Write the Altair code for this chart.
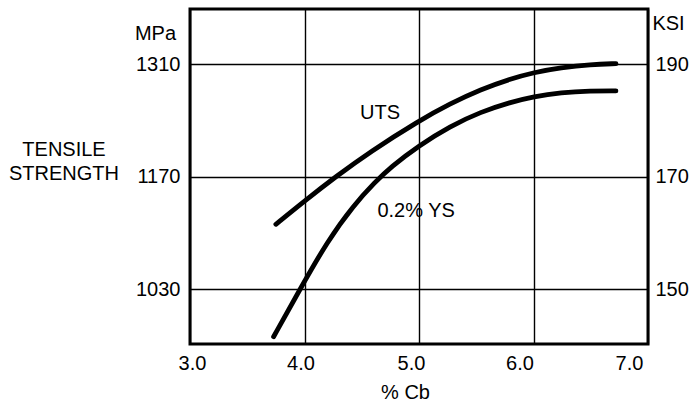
import altair as alt
import pandas as pd

# Data
cb_uts = [3.75, 4.0, 4.27, 4.57, 5.0, 5.27, 5.54, 5.8, 6.0, 6.24, 6.5, 6.72]
uts_mpa = [1111, 1140, 1170, 1201, 1240, 1261, 1279, 1292, 1300, 1306, 1310, 1311]

cb_ys = [3.73, 3.96, 4.2, 4.43, 4.62, 4.75, 5.0, 5.27, 5.54, 5.8, 6.0, 6.24, 6.5, 6.72]
ys_mpa = [971, 1030, 1090, 1135, 1164, 1182, 1209, 1233, 1251, 1263, 1270, 1275, 1277, 1277]

x_ticks = [3.0, 4.0, 5.0, 6.0, 7.0]
x_label_shift = [2, -4, -8, -14, -19]
mpa_ticks = [1030, 1170, 1310]
ksi_labels = ["150", "170", "190"]

curve_labels = ["UTS", "0.2% YS"]
curve_label_x = [4.66, 4.975]
curve_label_y = [1249, 1128]

FONT = "Liberation Sans"
FS = 20
X_DOMAIN = [3.0, 7.0]
Y_DOMAIN = [962, 1379]

df = pd.concat([
    pd.DataFrame({"cb": cb_uts, "mpa": uts_mpa, "series": "UTS"}),
    pd.DataFrame({"cb": cb_ys, "mpa": ys_mpa, "series": "YS"}),
])
lab = pd.DataFrame({"cb": curve_label_x, "mpa": curve_label_y, "text": curve_labels})

ksi_expr = " : ".join(
    f"datum.value == {m} ? '{k}'" for m, k in zip(mpa_ticks, ksi_labels)
) + " : ''"

x_offset_cond = {
    "condition": [
        {"test": f"datum.value == {v}", "value": s} for v, s in zip(x_ticks, x_label_shift)
    ],
    "value": 0,
}

xscale = alt.Scale(domain=X_DOMAIN, nice=False, zero=False)
yscale = alt.Scale(domain=Y_DOMAIN, nice=False, zero=False)

x_axis = alt.Axis(
    values=x_ticks, format=".1f", grid=True, gridColor="black", gridWidth=1.4,
    gridOpacity=1, ticks=False, domain=False, labelPadding=9, labelFlush=False,
    labelFont=FONT, labelFontSize=FS, labelColor="black",
    labelOffset=x_offset_cond,
    title="% Cb", titleFont=FONT, titleFontSize=FS, titleFontWeight="normal",
    titleColor="black", titleX=215, titleY=48, titleBaseline="middle",
    titleAlign="center",
)
left_axis = alt.Axis(
    values=mpa_ticks, format="d", grid=True, gridColor="black", gridWidth=1.4,
    gridOpacity=1, ticks=False, domain=False, labelPadding=10, orient="left",
    labelFont=FONT, labelFontSize=FS, labelColor="black", labelFlush=False,
    title="MPa", titleAngle=0, titleFont=FONT, titleFontSize=FS,
    titleFontWeight="normal", titleColor="black", titleX=-35, titleY=24,
    titleAlign="center", titleBaseline="middle",
)
right_axis = alt.Axis(
    orient="right", values=mpa_ticks, labelExpr=ksi_expr, grid=False,
    ticks=False, domain=False, labelPadding=7, labelFlush=False,
    labelFont=FONT, labelFontSize=FS, labelColor="black",
    title="KSI", titleAngle=0, titleFont=FONT, titleFontSize=FS,
    titleFontWeight="normal", titleColor="black", titleX=20, titleY=14,
    titleAlign="center", titleBaseline="middle",
)

X = alt.X("cb:Q", scale=xscale, axis=x_axis)
Y_left = alt.Y("mpa:Q", scale=yscale, axis=left_axis)

lines = alt.Chart(df).mark_line(
    color="black", strokeWidth=4.8, strokeCap="round", interpolate="basis"
).encode(x=X, y=Y_left, detail="series:N")

texts = alt.Chart(lab).mark_text(
    font=FONT, fontSize=FS, color="black", align="center", baseline="middle"
).encode(x=X, y=Y_left, text="text:N")

side_title = alt.Chart(pd.DataFrame({"t": ["TENSILE\nSTRENGTH"]})).mark_text(
    font=FONT, fontSize=FS, color="black", align="center", baseline="middle",
    lineBreak="\n", lineHeight=24,
).encode(x=alt.value(-126), y=alt.value(141), text="t:N")

right = alt.Chart(df).mark_line(opacity=0).encode(
    x=X, y=alt.Y("mpa:Q", scale=yscale, axis=right_axis), detail="series:N",
)

main = alt.layer(lines, texts, side_title)

chart = alt.layer(main, right).resolve_axis(
    y="independent"
).properties(
    width=458, height=335,
    autosize=alt.AutoSizeParams(type="none"),
    padding={"left": 190, "top": 9, "right": 44, "bottom": 64},
    background="white",
).configure_view(
    stroke="black", strokeWidth=3
)

chart.save("out.html", embed_options={"renderer": "svg", "actions": False})
